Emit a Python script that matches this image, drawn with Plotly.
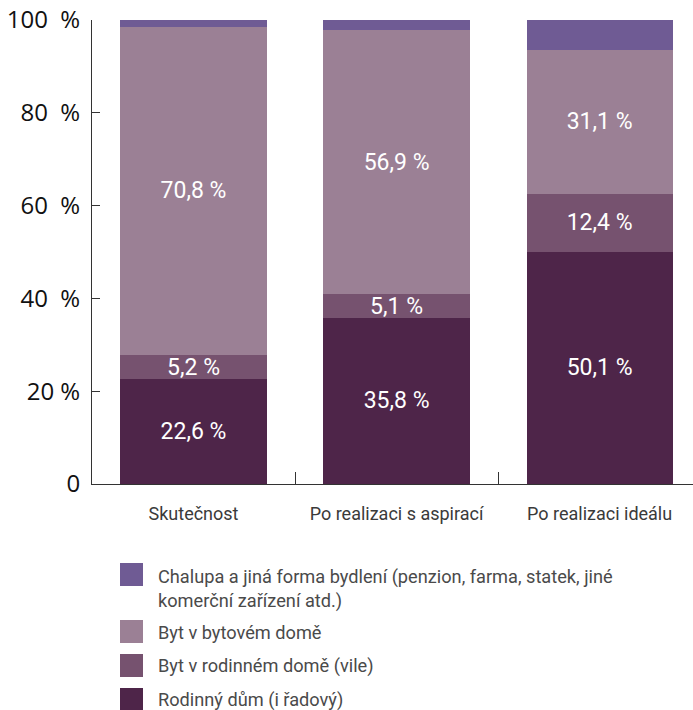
import plotly.graph_objects as go

# Data
categories = ["Skutečnost", "Po realizaci s aspirací", "Po realizaci ideálu"]
series_names = [
    "Rodinný dům (i řadový)",
    "Byt v rodinném domě (vile)",
    "Byt v bytovém domě",
    "Chalupa a jiná forma bydlení (penzion, farma, statek, jiné<br>komerční zařízení atd.)",
]
rodinny_dum = [22.6, 35.8, 50.1]
byt_v_rodinnem = [5.2, 5.1, 12.4]
byt_v_bytovem = [70.8, 56.9, 31.1]
chalupa = [1.4, 2.2, 6.4]
series_values = [rodinny_dum, byt_v_rodinnem, byt_v_bytovem, chalupa]
series_labeled = [True, True, True, False]
colors = ["#4e2549", "#76526f", "#9b8095", "#6f5b94"]

y_tickvals = [0, 20, 40, 60, 80, 100]
y_ticktext = ["0", "20 %", "40\u00a0\u00a0%", "60\u00a0\u00a0%", "80\u00a0\u00a0%", "100\u00a0\u00a0%"]

# Figure geometry (pixels)
W_FIG, H_FIG = 693, 710
L, R, T, B = 92, 0, 20, 226
PW, PH = W_FIG - L - R, H_FIG - T - B


def paper_x(px):
    return (px - L) / PW


def paper_y(py):
    return (T + PH - py) / PH


def fmt(v):
    return f"{v:.1f}".replace(".", ",") + " %"


fig = go.Figure()
for name, vals, col, lab in zip(series_names, series_values, colors, series_labeled):
    fig.add_trace(go.Bar(
        x=categories,
        y=vals,
        name=name,
        marker=dict(color=col, line=dict(width=0)),
        width=0.72,
        text=[fmt(v) for v in vals] if lab else None,
        textposition="inside" if lab else "none",
        insidetextanchor="middle",
        textangle=0,
        constraintext="none",
        textfont=dict(family="Roboto", size=23, color="white"),
        showlegend=False,
        hoverinfo="skip",
    ))

# Legend drawn as swatches + labels (top entry is the last series)
legend_rows = [
    (3, 563, 564, "top"),
    (2, 620, 632, "middle"),
    (1, 654, 666, "middle"),
    (0, 688, 700, "middle"),
]
shapes = []
annotations = []
for idx, sw_top, text_y, yanch in legend_rows:
    shapes.append(dict(
        type="rect", xref="paper", yref="paper",
        x0=paper_x(120), x1=paper_x(143),
        y0=paper_y(sw_top), y1=paper_y(sw_top + 23),
        fillcolor=colors[idx], line=dict(width=0),
    ))
    annotations.append(dict(
        xref="paper", yref="paper",
        x=paper_x(156), y=paper_y(text_y),
        xanchor="left", yanchor=yanch, align="left",
        text=series_names[idx], showarrow=False,
        font=dict(family="Roboto", size=18.2, color="#4a4a4a"),
    ))

fig.update_layout(
    barmode="stack",
    width=W_FIG,
    height=H_FIG,
    margin=dict(l=L, r=R, t=T, b=B, pad=0),
    paper_bgcolor="white",
    plot_bgcolor="white",
    shapes=shapes,
    annotations=annotations,
    showlegend=False,
)
fig.update_xaxes(
    range=[-0.5, 2.46],
    showline=True, linecolor="#333333", linewidth=1,
    ticks="inside", tickson="boundaries", ticklen=12, tickcolor="#333333",
    tickfont=dict(family="Roboto", size=18, color="#3a3a3a"),
    ticklabelstandoff=13,
    showgrid=False, zeroline=False,
)
fig.update_yaxes(
    range=[0, 100],
    tickvals=y_tickvals, ticktext=y_ticktext,
    showline=True, linecolor="#333333", linewidth=1,
    ticks="inside", ticklen=8, tickcolor="#333333",
    tickfont=dict(family="Open Sans", size=24, color="#111111"),
    ticklabelstandoff=6,
    showgrid=False, zeroline=False,
)

fig.write_html("out.html")
